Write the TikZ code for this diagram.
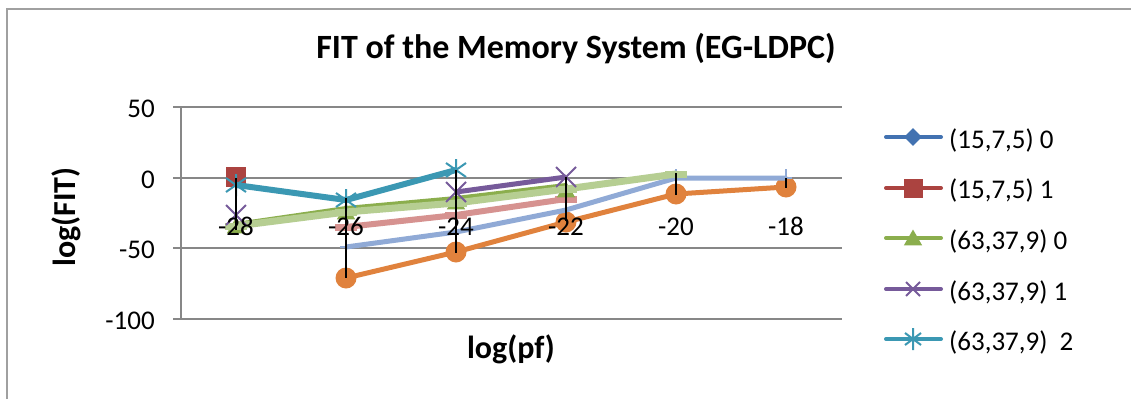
\documentclass[tikz,border=0pt]{standalone}
\usepackage{fontspec}
\setmainfont{Carlito}
\usetikzlibrary{shapes.geometric}

\definecolor{framegray}{HTML}{A0A0A0}
\definecolor{gridgray}{HTML}{878787}
\definecolor{sblue}{HTML}{4272B1}
\definecolor{sred}{HTML}{AB4340}
\definecolor{sgreen}{HTML}{8BAE4D}
\definecolor{spurple}{HTML}{765A9A}
\definecolor{steal}{HTML}{3B98B3}
\definecolor{sorange}{HTML}{E0823D}
\definecolor{slblue}{HTML}{90AAD6}
\definecolor{spink}{HTML}{D69290}
\definecolor{slgreen}{HTML}{B6CE92}

\tikzset{
  ticklab/.style={font=\fontsize{27}{27}\selectfont, inner sep=0pt},
  axtitle/.style={font=\fontsize{32}{32}\selectfont\bfseries, inner sep=0pt},
  legtext/.style={font=\fontsize{27}{27}\selectfont, inner sep=0pt, anchor=base west},
  grid line/.style={draw=gridgray, line width=2pt},
  series/.style={line width=#1, line join=round},
  dot/.style={circle, fill=sorange, inner sep=0pt, minimum size=21pt},
  sqmark/.style={rectangle, fill=sred, inner sep=0pt, minimum size=#1},
  trimark/.style={regular polygon, regular polygon sides=3, fill=sgreen, inner sep=0pt, minimum size=#1},
  dimark/.style={diamond, fill=sblue, inner sep=0pt, minimum size=#1},
  dashmark/.style={rectangle, fill=#1, inner sep=0pt, minimum width=22pt, minimum height=7pt},
  xmark/.pic={\draw[line width=2pt] (-#1,-#1) -- (#1,#1) (-#1,#1) -- (#1,-#1);},
  starmark/.pic={\draw[line width=2pt] (0,-11) -- (0,11) (-10,-7) -- (10,7) (-10,7) -- (10,-7);},
  smallstar/.pic={\draw[line width=2pt] (0,-11) -- (0,11) (-8,-6) -- (8,6) (-8,6) -- (8,-6);},
  plusmark/.pic={\draw[line width=2.5pt] (0,-9) -- (0,9) (-6,0) -- (6,0);},
  droplet/.style={line width=2pt, draw=black},
  legline/.style={line width=4pt, line cap=round},
}

\begin{document}
\begin{tikzpicture}[x=1pt, y=-1pt]
\useasboundingbox (0,0) rectangle (1131,399);
\fill[white] (0,0) rectangle (1131,399);

% outer frame (top and left edges)
\draw[framegray, line width=2pt] (7,399) -- (7,9) -- (1131,9);

% title
\node[font=\fontsize{34}{34}\selectfont\bfseries, inner sep=0pt, anchor=base] (title) at (576,58) {FIT of the Memory System (EG-LDPC)};

% horizontal gridlines with ticks, value axis
\foreach \yy in {107,178,248,319} \draw[grid line] (173,\yy) -- (842,\yy);
\draw[grid line] (181,107) -- (181,319);

% value axis labels
\node[ticklab, anchor=base east] (y50) at (155,117) {50};
\node[ticklab, anchor=base east] (y0) at (155,188) {0};
\node[ticklab, anchor=base east] (ym50) at (155,258) {-50};
\node[ticklab, anchor=base east] (ym100) at (155,329) {-100};

% axis titles
\node[axtitle, rotate=90, anchor=center] (ytitle) at (66,217) {log(FIT)};
\node[axtitle, anchor=base] (xtitle) at (511,358) {log(pf)};

% data points
\foreach \n/\xx/\yy in {1/346/278, 2/456/252, 3/566/222, 4/676/194, 5/786/187}
  \coordinate (or\n) at (\xx,\yy);
\foreach \n/\xx/\yy in {1/346/247, 2/456/232, 3/566/210, 4/676/178, 5/786/178}
  \coordinate (lb\n) at (\xx,\yy);
\foreach \n/\xx/\yy in {1/346/227, 2/456/215, 3/566/199}
  \coordinate (pk\n) at (\xx,\yy);
\foreach \n/\xx/\yy in {1/236/226, 2/346/212, 3/456/203, 4/566/189, 5/676/174}
  \coordinate (lg\n) at (\xx,\yy);
\foreach \n/\xx/\yy in {1/236/224, 2/346/208, 3/456/198, 4/566/185}
  \coordinate (dg\n) at (\xx,\yy);
\foreach \n/\xx/\yy in {1/236/215, 2/456/192, 3/566/177}
  \coordinate (pu\n) at (\xx,\yy);
\foreach \n/\xx/\yy in {1/236/185, 2/346/200, 3/456/170}
  \coordinate (te\n) at (\xx,\yy);
\coordinate (rd1) at (236,177);

% orange series
\draw[sorange, series=5pt] (or1) -- (or2) -- (or3) -- (or4) -- (or5);
\foreach \n in {1,...,5} \node[dot] (ordot\n) at (or\n) {};

% light blue series
\draw[slblue, series=5pt] (lb1) -- (lb2) -- (lb3) -- (lb4) -- (lb5);
\foreach \n in {1,...,5} \pic[slblue] at (lb\n) {plusmark};

% pink series
\draw[spink, series=6pt] (pk1) -- (pk2) -- (pk3);
\foreach \n in {1,...,3} \node[dashmark=spink] (pkm\n) at (pk\n) {};

% dark green series
\draw[sgreen, series=4pt] (dg1) -- (dg2) -- (dg3) -- (dg4);
\foreach \n/\xx/\yy in {1/236/228, 2/346/214, 3/456/204, 4/566/192}
  \node[trimark=21pt] (dgm\n) at (\xx,\yy) {};

% light green series
\draw[slgreen, series=7pt] (lg1) -- (lg2) -- (lg3) -- (lg4) -- (lg5);
\foreach \n in {1,...,5} \node[dashmark=slgreen] (lgm\n) at (lg\n) {};

% red series (single point)
\node[sqmark=20pt] (rdm1) at (rd1) {};

% purple series
\draw[spurple, series=5pt] (pu2) -- (pu3);
\foreach \n in {1,...,3} \pic[spurple] at (pu\n) {xmark=10};

% teal series
\draw[steal, series=6pt] (te1) -- (te2) -- (te3);
\foreach \n in {1,...,3} \pic[steal] at (te\n) {starmark};

% category labels
\foreach \n/\xx/\lab in {1/236/-28, 2/346/-26, 3/456/-24, 4/566/-22, 5/676/-20, 6/786/-18}
  \node[ticklab, anchor=base] (cat\n) at (\xx,235) {\lab};

% vertical black lines
\foreach \n/\xx/\ya/\yb in {1/236/178/230, 2/346/198/278, 3/456/170/253, 4/566/177/221, 5/676/173/195, 6/786/178/188} {
  \coordinate (vt\n) at (\xx,\ya);
  \coordinate (vb\n) at (\xx,\yb);
  \draw[droplet] (vt\n) -- (vb\n);
}

% legend
\foreach \n/\yy in {1/137, 2/188, 3/238, 4/289, 5/339} {
  \coordinate (la\n) at (886,\yy);
  \coordinate (lc\n) at (913,\yy);
  \coordinate (lz\n) at (941,\yy);
}
\draw[sblue, legline] (la1) -- (lz1);
\node[dimark=18pt] (legm1) at (lc1) {};
\draw[sred, legline] (la2) -- (lz2);
\node[sqmark=19pt] (legm2) at (lc2) {};
\draw[sgreen, legline] (la3) -- (lz3);
\node[trimark=21pt] (legm3) at ([yshift=-2pt]lc3) {};
\draw[spurple, legline] (la4) -- (lz4);
\pic[spurple] at (lc4) {xmark=7};
\draw[steal, legline] (la5) -- (lz5);
\pic[steal] at (lc5) {smallstar};

\node[legtext] (lt1) at (949,148) {(15,7,5) 0};
\node[legtext] (lt2) at (949,198) {(15,7,5) 1};
\node[legtext] (lt3) at (949,249) {(63,37,9) 0};
\node[legtext] (lt4) at (949,300) {(63,37,9) 1};
\node[legtext] (lt5) at (949,350) {(63,37,9)\ \ 2};
\end{tikzpicture}
\end{document}
